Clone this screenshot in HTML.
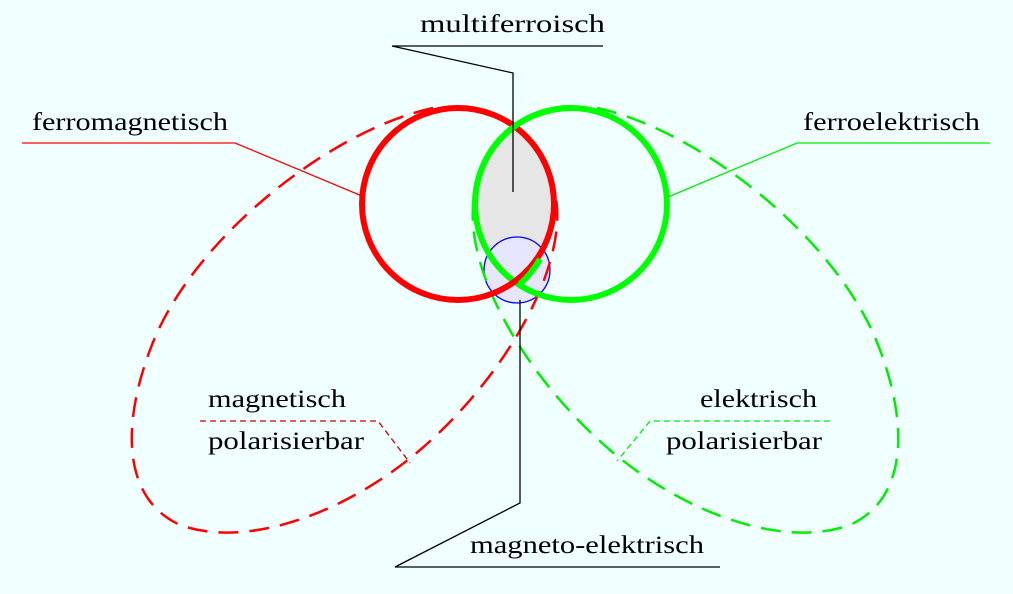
<!DOCTYPE html>
<html><head><style>html,body{margin:0;padding:0;background:#f0ffff}svg{display:block}text{font-family:"Liberation Serif",serif;font-size:25px;fill:#000}</style></head>
<body>
<svg width="1013" height="594" viewBox="0 0 1013 594" xmlns="http://www.w3.org/2000/svg">
<rect width="1013" height="594" fill="#f0ffff"/>
<defs>
<clipPath id="cr"><circle cx="458" cy="204" r="96"/></clipPath>
</defs>
<circle cx="571" cy="204" r="96" fill="#e6e6e6" clip-path="url(#cr)"/>
<circle cx="517" cy="270" r="33" fill="#e6e6ff" stroke="#0000ff" stroke-width="1.3"/>
<path d="M433,108 C330,130 190,240 150,350 C120,430 125,500 180,525 C250,550 350,510 420,450 C490,390 540,310 553,250 C558,230 558,210 556,198" fill="none" stroke="#ff0000" stroke-width="2.5" stroke-dasharray="20 11"/>
<path d="M597,108 C700,130 840,240 880,350 C910,430 905,500 850,525 C780,550 680,510 610,450 C540,390 490,310 477,250 C472,230 472,210 474,198" fill="none" stroke="#00ee00" stroke-width="2.5" stroke-dasharray="20 11"/>
<circle cx="571" cy="204" r="96" fill="none" stroke="#00ff00" stroke-width="6"/>
<circle cx="458" cy="204" r="96" fill="none" stroke="#ff0000" stroke-width="6"/>
<path d="M571 108 A96 96 0 0 0 475 204" fill="none" stroke="#00ff00" stroke-width="6"/>
<path d="M520 284 A96 96 0 0 0 540 259" fill="none" stroke="#00ff00" stroke-width="6"/>
<polyline points="603,46 392,46 513,73 513,192" fill="none" stroke="#000" stroke-width="1.3"/>
<polyline points="22,143 235,143 362,196" fill="none" stroke="#ff0000" stroke-width="1.3"/>
<polyline points="990,143 797,143 668,197" fill="none" stroke="#00ee00" stroke-width="1.3"/>
<polyline points="200,421 378,421 410,463" fill="none" stroke="#cc0000" stroke-width="1.3" stroke-dasharray="6 4"/>
<polyline points="830,421 650,421 617,461" fill="none" stroke="#00ee00" stroke-width="1.3" stroke-dasharray="6 4"/>
<polyline points="720,567 395,567 520,503 520,300" fill="none" stroke="#000" stroke-width="1.3"/>
<text x="420" y="32" textLength="185" lengthAdjust="spacingAndGlyphs">multiferroisch</text>
<text x="32" y="130" textLength="196" lengthAdjust="spacingAndGlyphs">ferromagnetisch</text>
<text x="803" y="130" textLength="177" lengthAdjust="spacingAndGlyphs">ferroelektrisch</text>
<text x="208" y="407" textLength="138" lengthAdjust="spacingAndGlyphs">magnetisch</text>
<text x="208" y="449" textLength="156" lengthAdjust="spacingAndGlyphs">polarisierbar</text>
<text x="700" y="407" textLength="117" lengthAdjust="spacingAndGlyphs">elektrisch</text>
<text x="666" y="449" textLength="156" lengthAdjust="spacingAndGlyphs">polarisierbar</text>
<text x="470" y="553" textLength="234" lengthAdjust="spacingAndGlyphs">magneto-elektrisch</text>
</svg>
</body></html>
